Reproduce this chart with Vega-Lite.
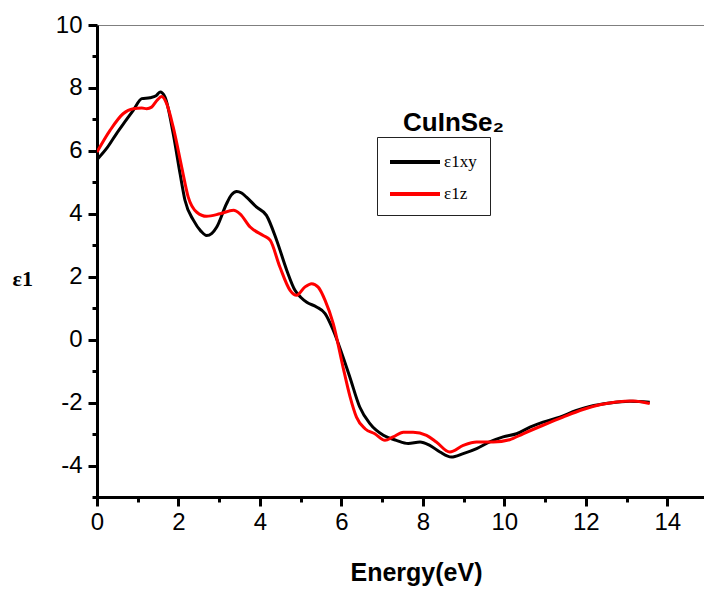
{
  "$schema": "https://vega.github.io/schema/vega-lite/v6.json",
  "width": 611,
  "height": 472,
  "autosize": "none",
  "padding": {"left": 97, "top": 25, "right": 0, "bottom": 93},
  "background": "white",
  "config": {"view": {"stroke": "#7f7f7f", "strokeWidth": 1}, "font": "Liberation Sans"},
  "title": {"text": "CuInSe₂", "anchor": "start", "frame": "group", "dx": 306, "dy": 144, "font": "Liberation Sans", "fontSize": 26, "fontWeight": "bold", "color": "black", "baseline": "alphabetic", "offset": 0},
  "data": {"values": [
    {"E": 0, "v": 5.72, "s": "ε1xy"}, {"E": 0.25, "v": 6.1, "s": "ε1xy"}, {"E": 0.48, "v": 6.55, "s": "ε1xy"}, {"E": 0.7, "v": 6.95, "s": "ε1xy"}, {"E": 0.89, "v": 7.29, "s": "ε1xy"}, {"E": 1.1, "v": 7.66, "s": "ε1xy"}, {"E": 1.3, "v": 7.69, "s": "ε1xy"}, {"E": 1.45, "v": 7.75, "s": "ε1xy"}, {"E": 1.55, "v": 7.87, "s": "ε1xy"}, {"E": 1.67, "v": 7.71, "s": "ε1xy"}, {"E": 1.87, "v": 6.55, "s": "ε1xy"}, {"E": 2.04, "v": 5.27, "s": "ε1xy"}, {"E": 2.16, "v": 4.43, "s": "ε1xy"}, {"E": 2.37, "v": 3.79, "s": "ε1xy"}, {"E": 2.55, "v": 3.45, "s": "ε1xy"}, {"E": 2.69, "v": 3.31, "s": "ε1xy"}, {"E": 2.82, "v": 3.38, "s": "ε1xy"}, {"E": 2.94, "v": 3.58, "s": "ε1xy"}, {"E": 3.18, "v": 4.32, "s": "ε1xy"}, {"E": 3.3, "v": 4.6, "s": "ε1xy"}, {"E": 3.43, "v": 4.71, "s": "ε1xy"}, {"E": 3.55, "v": 4.66, "s": "ε1xy"}, {"E": 3.67, "v": 4.53, "s": "ε1xy"}, {"E": 3.92, "v": 4.21, "s": "ε1xy"}, {"E": 4.16, "v": 3.95, "s": "ε1xy"}, {"E": 4.41, "v": 3.16, "s": "ε1xy"}, {"E": 4.66, "v": 2.2, "s": "ε1xy"}, {"E": 4.86, "v": 1.57, "s": "ε1xy"}, {"E": 5.0, "v": 1.35, "s": "ε1xy"}, {"E": 5.15, "v": 1.19, "s": "ε1xy"}, {"E": 5.39, "v": 1.04, "s": "ε1xy"}, {"E": 5.6, "v": 0.83, "s": "ε1xy"}, {"E": 5.8, "v": 0.3, "s": "ε1xy"}, {"E": 6.04, "v": -0.55, "s": "ε1xy"}, {"E": 6.21, "v": -1.2, "s": "ε1xy"}, {"E": 6.45, "v": -2.14, "s": "ε1xy"}, {"E": 6.7, "v": -2.67, "s": "ε1xy"}, {"E": 7.03, "v": -3.04, "s": "ε1xy"}, {"E": 7.35, "v": -3.2, "s": "ε1xy"}, {"E": 7.64, "v": -3.3, "s": "ε1xy"}, {"E": 7.93, "v": -3.25, "s": "ε1xy"}, {"E": 8.17, "v": -3.36, "s": "ε1xy"}, {"E": 8.42, "v": -3.57, "s": "ε1xy"}, {"E": 8.7, "v": -3.73, "s": "ε1xy"}, {"E": 8.99, "v": -3.62, "s": "ε1xy"}, {"E": 9.32, "v": -3.46, "s": "ε1xy"}, {"E": 9.64, "v": -3.25, "s": "ε1xy"}, {"E": 9.97, "v": -3.09, "s": "ε1xy"}, {"E": 10.3, "v": -2.99, "s": "ε1xy"}, {"E": 10.63, "v": -2.78, "s": "ε1xy"}, {"E": 10.95, "v": -2.62, "s": "ε1xy"}, {"E": 11.36, "v": -2.46, "s": "ε1xy"}, {"E": 11.77, "v": -2.25, "s": "ε1xy"}, {"E": 12.1, "v": -2.12, "s": "ε1xy"}, {"E": 12.59, "v": -2.01, "s": "ε1xy"}, {"E": 13.08, "v": -1.96, "s": "ε1xy"}, {"E": 13.57, "v": -1.99, "s": "ε1xy"},
    {"E": 0, "v": 5.96, "s": "ε1z"}, {"E": 0.32, "v": 6.65, "s": "ε1z"}, {"E": 0.64, "v": 7.18, "s": "ε1z"}, {"E": 0.89, "v": 7.34, "s": "ε1z"}, {"E": 1.1, "v": 7.36, "s": "ε1z"}, {"E": 1.22, "v": 7.34, "s": "ε1z"}, {"E": 1.34, "v": 7.39, "s": "ε1z"}, {"E": 1.47, "v": 7.6, "s": "ε1z"}, {"E": 1.59, "v": 7.73, "s": "ε1z"}, {"E": 1.71, "v": 7.5, "s": "ε1z"}, {"E": 1.87, "v": 6.76, "s": "ε1z"}, {"E": 2.08, "v": 5.48, "s": "ε1z"}, {"E": 2.24, "v": 4.53, "s": "ε1z"}, {"E": 2.45, "v": 4.05, "s": "ε1z"}, {"E": 2.69, "v": 3.92, "s": "ε1z"}, {"E": 3.02, "v": 4.0, "s": "ε1z"}, {"E": 3.35, "v": 4.11, "s": "ε1z"}, {"E": 3.51, "v": 4.0, "s": "ε1z"}, {"E": 3.76, "v": 3.58, "s": "ε1z"}, {"E": 4.08, "v": 3.31, "s": "ε1z"}, {"E": 4.25, "v": 3.16, "s": "ε1z"}, {"E": 4.49, "v": 2.31, "s": "ε1z"}, {"E": 4.74, "v": 1.57, "s": "ε1z"}, {"E": 4.9, "v": 1.41, "s": "ε1z"}, {"E": 5.1, "v": 1.67, "s": "ε1z"}, {"E": 5.27, "v": 1.78, "s": "ε1z"}, {"E": 5.43, "v": 1.67, "s": "ε1z"}, {"E": 5.6, "v": 1.25, "s": "ε1z"}, {"E": 5.8, "v": 0.51, "s": "ε1z"}, {"E": 6.04, "v": -0.87, "s": "ε1z"}, {"E": 6.21, "v": -1.8, "s": "ε1z"}, {"E": 6.37, "v": -2.46, "s": "ε1z"}, {"E": 6.58, "v": -2.83, "s": "ε1z"}, {"E": 6.82, "v": -2.99, "s": "ε1z"}, {"E": 7.07, "v": -3.2, "s": "ε1z"}, {"E": 7.27, "v": -3.09, "s": "ε1z"}, {"E": 7.52, "v": -2.94, "s": "ε1z"}, {"E": 7.76, "v": -2.94, "s": "ε1z"}, {"E": 8.09, "v": -3.04, "s": "ε1z"}, {"E": 8.33, "v": -3.25, "s": "ε1z"}, {"E": 8.66, "v": -3.57, "s": "ε1z"}, {"E": 8.99, "v": -3.36, "s": "ε1z"}, {"E": 9.32, "v": -3.25, "s": "ε1z"}, {"E": 9.73, "v": -3.25, "s": "ε1z"}, {"E": 10.13, "v": -3.18, "s": "ε1z"}, {"E": 10.46, "v": -2.99, "s": "ε1z"}, {"E": 10.95, "v": -2.72, "s": "ε1z"}, {"E": 11.44, "v": -2.46, "s": "ε1z"}, {"E": 11.93, "v": -2.22, "s": "ε1z"}, {"E": 12.34, "v": -2.07, "s": "ε1z"}, {"E": 12.75, "v": -1.98, "s": "ε1z"}, {"E": 13.16, "v": -1.95, "s": "ε1z"}, {"E": 13.57, "v": -2.03, "s": "ε1z"}
  ]},
  "mark": {"type": "line", "interpolate": "monotone", "strokeWidth": 3, "clip": true},
  "encoding": {
    "x": {
      "field": "E", "type": "quantitative",
      "scale": {"domain": [0, 15], "nice": false, "zero": false},
      "axis": {
        "values": [0, 1, 2, 3, 4, 5, 6, 7, 8, 9, 10, 11, 12, 13, 14, 15],
        "labelExpr": "datum.value % 2 === 0 ? '' + datum.value : ''",
        "tickSize": {"condition": {"test": "datum.value % 2 !== 0", "value": 5}, "value": 9},
        "tickWidth": 3, "tickColor": "black", "domainWidth": 3, "domainColor": "black",
        "labelFont": "Liberation Sans", "labelFontSize": 24, "labelColor": "black", "labelPadding": 4,
        "labelFlush": false, "labelOverlap": false, "grid": false,
        "title": "Energy(eV)", "titleFont": "Liberation Sans", "titleFontSize": 25, "titleFontWeight": "bold", "titleColor": "black",
        "titleX": 319, "titleY": 83, "titleBaseline": "alphabetic", "titleAlign": "center"
      }
    },
    "y": {
      "field": "v", "type": "quantitative",
      "scale": {"domain": [-5, 10], "nice": false, "zero": false},
      "axis": {
        "values": [-5, -4, -3, -2, -1, 0, 1, 2, 3, 4, 5, 6, 7, 8, 9, 10],
        "labelExpr": "datum.value % 2 === 0 ? '' + datum.value : ''",
        "tickSize": {"condition": {"test": "datum.value % 2 !== 0", "value": 5}, "value": 9},
        "tickWidth": 3, "tickColor": "black", "domainWidth": 3, "domainColor": "black",
        "labelFont": "Liberation Sans", "labelFontSize": 24, "labelColor": "black", "labelPadding": 6,
        "labelFlush": false, "labelOverlap": false, "grid": false,
        "title": "ε1", "titleFont": "Liberation Serif", "titleFontSize": 22, "titleFontWeight": "bold", "titleColor": "black",
        "titleAngle": 0, "titleX": -85, "titleY": 260, "titleAlign": "left", "titleBaseline": "alphabetic"
      }
    },
    "color": {
      "field": "s", "type": "nominal",
      "scale": {"domain": ["ε1xy", "ε1z"], "range": ["#000000", "#ff0000"]},
      "legend": {
        "orient": "none", "legendX": 280, "legendY": 112, "title": null,
        "strokeColor": "#222222", "fillColor": "white", "padding": 13,
        "symbolType": "M-2.5,0H2.5", "symbolSize": 400, "symbolStrokeWidth": 4, "symbolOffset": 13,
        "labelFont": "Liberation Serif", "labelFontSize": 17, "labelColor": "black",
        "rowPadding": 12, "labelOffset": 17
      }
    }
  }
}
